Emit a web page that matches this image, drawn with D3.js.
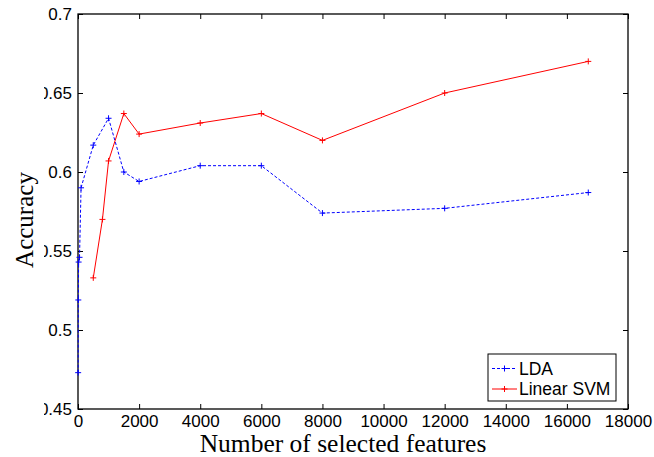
<!DOCTYPE html>
<html>
<head>
<meta charset="utf-8">
<script src="https://cdn.jsdelivr.net/npm/d3@7"></script>
<style>
  html, body { margin: 0; padding: 0; background: #fff; }
  svg { display: block; }
  .tick text { font-family: "Liberation Sans", Arial, sans-serif; font-size: 17px; fill: #000; }
  .tick line { stroke: #000; stroke-width: 1; }
</style>
</head>
<body>
<svg id="chart" width="654" height="457"></svg>
<script>
// Accuracy vs. number of selected features for two classifiers
const ldaFeatures = [5, 10, 20, 50, 100, 500, 1000, 1500, 2000, 4000, 6000, 8000, 12000, 16700];
const ldaAccuracy = [0.473, 0.519, 0.543, 0.546, 0.590, 0.617, 0.634, 0.600, 0.594, 0.604, 0.604, 0.574, 0.577, 0.587];

const svmFeatures = [500, 800, 1000, 1500, 2000, 4000, 6000, 8000, 12000, 16700];
const svmAccuracy = [0.533, 0.570, 0.607, 0.637, 0.624, 0.631, 0.637, 0.620, 0.650, 0.670];

const xTicks = [0, 2000, 4000, 6000, 8000, 10000, 12000, 14000, 16000, 18000];
const yTicks = [0.45, 0.5, 0.55, 0.6, 0.65, 0.7];

const seriesNames = ["LDA", "Linear SVM"];
const seriesColors = ["#0000ff", "#ff0000"];

const svg = d3.select("#chart");
const plotLeft = 78, plotRight = 628, plotTop = 14, plotBottom = 409;

const x = d3.scaleLinear().domain([0, 18000]).range([plotLeft, plotRight]);
const y = d3.scaleLinear().domain([0.45, 0.7]).range([plotBottom, plotTop]);

// tick label clipping on the left edge
svg.append("defs").append("clipPath").attr("id", "ylabClip")
  .append("rect").attr("x", 44).attr("y", 0).attr("width", 700).attr("height", 457);

// axes with inward ticks on all four sides
const tickLen = 5;
svg.append("g")
  .attr("transform", `translate(0,${plotBottom})`)
  .call(d3.axisBottom(x).tickValues(xTicks).tickFormat(d3.format("d")).tickSize(-tickLen).tickPadding(6))
  .call(g => g.select(".domain").remove());

svg.append("g")
  .attr("transform", `translate(0,${plotTop})`)
  .call(d3.axisTop(x).tickValues(xTicks).tickFormat("").tickSize(-tickLen))
  .call(g => g.select(".domain").remove());

svg.append("g").attr("clip-path", "url(#ylabClip)")
  .append("g")
  .attr("transform", `translate(${plotLeft},0)`)
  .call(d3.axisLeft(y).tickValues(yTicks).tickFormat(d3.format("")).tickSize(-tickLen).tickPadding(6))
  .call(g => g.select(".domain").remove());

svg.append("g")
  .attr("transform", `translate(${plotRight},0)`)
  .call(d3.axisRight(y).tickValues(yTicks).tickFormat("").tickSize(-tickLen))
  .call(g => g.select(".domain").remove());

svg.append("rect")
  .attr("x", plotLeft).attr("y", plotTop)
  .attr("width", plotRight - plotLeft).attr("height", plotBottom - plotTop)
  .attr("fill", "none").attr("stroke", "#000").attr("stroke-width", 1.3);

// series
const series = [
  { xs: ldaFeatures, ys: ldaAccuracy, color: seriesColors[0], dash: "3,2" },
  { xs: svmFeatures, ys: svmAccuracy, color: seriesColors[1], dash: null }
];

const line = d3.line().x(d => x(d[0])).y(d => y(d[1]));
const plus = 3;

series.forEach(s => {
  const pts = s.xs.map((v, i) => [v, s.ys[i]]);
  svg.append("path")
    .attr("d", line(pts))
    .attr("fill", "none")
    .attr("stroke", s.color)
    .attr("stroke-width", 1)
    .attr("stroke-dasharray", s.dash);
  svg.append("g").selectAll("path").data(pts).join("path")
    .attr("d", d => {
      const cx = x(d[0]), cy = y(d[1]);
      return `M${cx - plus},${cy}H${cx + plus}M${cx},${cy - plus}V${cy + plus}`;
    })
    .attr("stroke", s.color)
    .attr("stroke-width", 1);
});

// axis titles
svg.append("text")
  .attr("x", 343).attr("y", 452)
  .attr("text-anchor", "middle")
  .attr("font-family", "'Liberation Serif', 'Times New Roman', serif")
  .attr("font-size", 25.5)
  .text("Number of selected features");

svg.append("text")
  .attr("transform", "translate(33,220) rotate(-90)")
  .attr("text-anchor", "middle")
  .attr("font-family", "'Liberation Serif', 'Times New Roman', serif")
  .attr("font-size", 25)
  .text("Accuracy");

// legend
const lg = svg.append("g");
lg.append("rect")
  .attr("x", 488).attr("y", 354).attr("width", 128).attr("height", 47)
  .attr("fill", "#fff").attr("stroke", "#000").attr("stroke-width", 1);

const rowY = [368.5, 389];
seriesNames.forEach((name, i) => {
  const s = series[i];
  lg.append("line")
    .attr("x1", 492).attr("x2", 517).attr("y1", rowY[i]).attr("y2", rowY[i])
    .attr("stroke", s.color).attr("stroke-width", 1).attr("stroke-dasharray", s.dash);
  lg.append("path")
    .attr("d", `M${504.5 - plus},${rowY[i]}H${504.5 + plus}M504.5,${rowY[i] - plus}V${rowY[i] + plus}`)
    .attr("stroke", s.color).attr("stroke-width", 1);
  lg.append("text")
    .attr("x", 519).attr("y", rowY[i]).attr("dy", "0.35em")
    .attr("font-family", "'Liberation Sans', Arial, sans-serif")
    .attr("font-size", 17.5)
    .text(name);
});
</script>
</body>
</html>
